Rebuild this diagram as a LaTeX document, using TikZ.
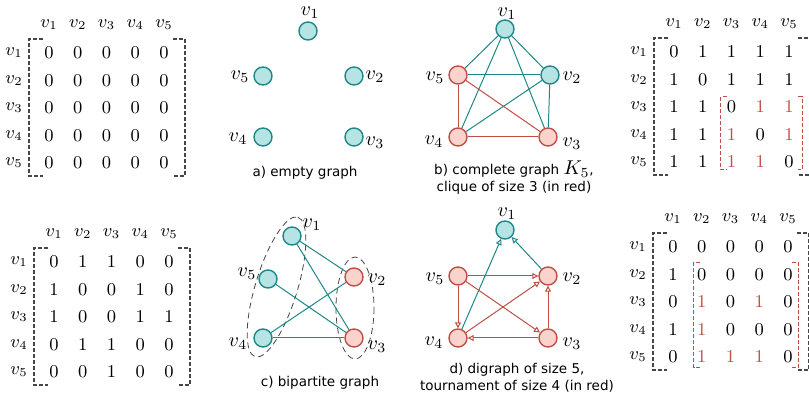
\documentclass[tikz,border=0pt]{standalone}
\usepackage{fontspec}
\usetikzlibrary{arrows.meta}
\newfontfamily\capfont{DejaVu Sans}

\definecolor{tealline}{RGB}{30,135,135}
\definecolor{tealfill}{RGB}{182,228,228}
\definecolor{redline}{RGB}{192,78,70}
\definecolor{redfill}{RGB}{250,212,204}
\definecolor{brackgray}{RGB}{70,70,70}
\newcommand\rd[1]{\textcolor{redline}{#1}}

\tikzset{
  tnode/.style={circle, draw=tealline, fill=tealfill, line width=0.7pt, minimum size=9pt, inner sep=0pt},
  rnode/.style={circle, draw=redline, fill=redfill, line width=0.7pt, minimum size=9pt, inner sep=0pt},
  tedge/.style={draw=tealline, line width=0.5pt},
  redge/.style={draw=redline, line width=0.5pt},
  arr/.style={-{Triangle[open,length=3pt,width=3pt]}},
  vlabel/.style={font=\fontsize{10}{12}\selectfont, inner sep=0pt},
  entry/.style={font=\fontsize{9}{11}\selectfont, inner sep=0pt},
  brack/.style={draw=brackgray, line width=0.6pt, dash pattern=on 2pt off 1pt},
  rbrack/.style={draw=redline, line width=0.5pt, dash pattern=on 2pt off 1pt},
  bipart/.style={draw=brackgray, line width=0.4pt, densely dashed},
  caption/.style={font=\capfont\fontsize{6.75}{8.5}\selectfont, align=center, inner sep=0pt}
}

% #1 name, #2/#3 position of entry (1,1), #4 rows
\newcommand\adjmat[4]{
  \foreach \j in {1,...,5}
    \node[entry] (#1-h\j) at ({#2+28.75*(\j-1)},{#3-28}) {$v_\j$};
  \foreach \row [count=\i] in {#4} {
    \node[entry] (#1-r\i) at ({#2-35},{#3+27.5*(\i-1)}) {$v_\i$};
    \foreach \val [count=\j] in \row
      \node[entry] (#1-\i-\j) at ({#2+28.75*(\j-1)},{#3+27.5*(\i-1)}) {$\val$};
  }
  \draw[brack] ([shift={(-6,-14)}]#1-1-1.center) -- ([shift={(-20,-14)}]#1-1-1.center)
    -- ([shift={(-20,13)}]#1-5-1.center) -- ([shift={(-6,13)}]#1-5-1.center);
  \draw[brack] ([shift={(9,-14)}]#1-1-5.center) -- ([shift={(21,-14)}]#1-1-5.center)
    -- ([shift={(21,13)}]#1-5-5.center) -- ([shift={(9,13)}]#1-5-5.center);
}

\begin{document}
\begin{tikzpicture}[x=0.5pt,y=-0.5pt]
\useasboundingbox (0,0) rectangle (809,395);

% matrices
\adjmat{ma}{49}{53}{{0,0,0,0,0},{0,0,0,0,0},{0,0,0,0,0},{0,0,0,0,0},{0,0,0,0,0}}
\adjmat{mb}{674}{52}{{0,1,1,1,1},{1,0,1,1,1},{1,1,0,\rd1,\rd1},{1,1,\rd1,0,\rd1},{1,1,\rd1,\rd1,0}}
\adjmat{mc}{54}{262}{{0,1,1,0,0},{1,0,0,1,0},{1,0,0,1,1},{0,1,1,0,0},{0,0,1,0,0}}
\adjmat{md}{673}{247}{{0,0,0,0,0},{1,0,0,0,0},{0,\rd1,0,\rd1,0},{1,\rd1,0,0,0},{0,\rd1,\rd1,\rd1,0}}

\draw[rbrack] ([shift={(-5,-10)}]mb-3-3.center) -- ([shift={(-11,-10)}]mb-3-3.center)
  -- ([shift={(-11,8)}]mb-5-3.center) -- ([shift={(-5,8)}]mb-5-3.center);
\draw[rbrack] ([shift={(9,-10)}]mb-3-5.center) -- ([shift={(13,-10)}]mb-3-5.center)
  -- ([shift={(13,8)}]mb-5-5.center) -- ([shift={(9,8)}]mb-5-5.center);
\draw[rbrack] ([shift={(-2,-12)}]md-2-2.center) -- ([shift={(-8,-12)}]md-2-2.center)
  -- ([shift={(-8,11)}]md-5-2.center) -- ([shift={(-2,11)}]md-5-2.center);
\draw[rbrack] ([shift={(4,-12)}]md-2-5.center) -- ([shift={(10,-12)}]md-2-5.center)
  -- ([shift={(10,11)}]md-5-5.center) -- ([shift={(4,11)}]md-5-5.center);

% a) empty graph
\node[tnode] (a1) at (308,31) {};
\node[tnode] (a2) at (354,76) {};
\node[tnode] (a3) at (354,137) {};
\node[tnode] (a4) at (263,137) {};
\node[tnode] (a5) at (263,76) {};
\foreach \n/\x/\y in {1/310/13, 2/375/77, 3/375/143, 4/238/139, 5/240/77}
  \node[vlabel] (al\n) at (\x,\y) {$v_\n$};
\node[caption] (acap) at (305,173) {a) empty graph};

% b) complete graph
\node[tnode] (b1) at (505,29) {};
\node[tnode] (b2) at (550,75) {};
\node[rnode] (b3) at (548,137) {};
\node[rnode] (b4) at (458,137) {};
\node[rnode] (b5) at (458,75) {};
\foreach \n/\x/\y in {1/507/14, 2/572/78, 3/572/144, 4/434/142, 5/435/78}
  \node[vlabel] (bl\n) at (\x,\y) {$v_\n$};
\foreach \u/\v in {1/2, 1/3, 1/4, 1/5, 2/3, 2/4, 2/5}
  \draw[tedge] (b\u) -- (b\v);
\foreach \u/\v in {3/4, 3/5, 4/5}
  \draw[redge] (b\u) -- (b\v);
\node[caption] (bcap) at (514,178) {b) complete graph {\fontsize{10}{10}\selectfont$K_5$},\\clique of size 3 (in red)};

% c) bipartite graph
\draw[bipart, rotate around={73:(276.5,287)}] (276.5,287) ellipse [x radius=73, y radius=21];
\draw[bipart] (355,308) ellipse [x radius=19, y radius=51];
\node[tnode] (c1) at (292,236) {};
\node[rnode] (c2) at (354,277) {};
\node[rnode] (c3) at (354,338) {};
\node[tnode] (c4) at (263,338) {};
\node[tnode] (c5) at (268,279) {};
\foreach \n/\x/\y in {1/312/225, 2/377/280, 3/377/347, 4/238/344, 5/247/274}
  \node[vlabel] (cl\n) at (\x,\y) {$v_\n$};
\foreach \u/\v in {1/2, 1/3, 5/3, 4/2, 4/3}
  \draw[tedge] (c\u) -- (c\v);
\node[caption] (ccap) at (320,383) {c) bipartite graph};

% d) digraph
\node[tnode] (d1) at (505,230) {};
\node[rnode] (d2) at (548,276) {};
\node[rnode] (d3) at (548,338) {};
\node[rnode] (d4) at (458,338) {};
\node[rnode] (d5) at (458,276) {};
\foreach \n/\x/\y in {1/507/214, 2/572/279, 3/572/344, 4/434/343, 5/435/279}
  \node[vlabel] (dl\n) at (\x,\y) {$v_\n$};
\foreach \u/\v in {2/1, 4/1}
  \draw[tedge, arr] (d\u) -- (d\v);
\foreach \u/\v in {3/2, 3/4, 4/2, 5/2, 5/3, 5/4}
  \draw[redge, arr] (d\u) -- (d\v);
\node[caption] (dcap) at (517,378) {d) digraph of size 5,\\tournament of size 4 (in red)};
\end{tikzpicture}
\end{document}
